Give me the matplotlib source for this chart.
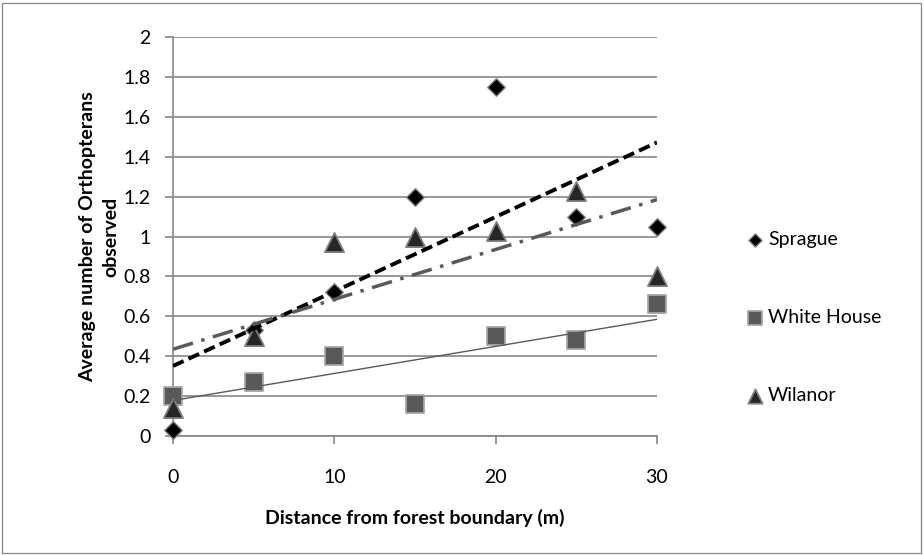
import numpy as np
import matplotlib
matplotlib.use("Agg")
import matplotlib.pyplot as plt
from matplotlib.patches import Rectangle

distance = np.array([0, 5, 10, 15, 20, 25, 30])
sprague = np.array([0.03, 0.53, 0.72, 1.20, 1.75, 1.10, 1.05])
white_house = np.array([0.20, 0.27, 0.40, 0.16, 0.50, 0.48, 0.66])
wilanor = np.array([0.14, 0.50, 0.97, 1.00, 1.03, 1.23, 0.80])
y_ticks = [0, 0.2, 0.4, 0.6, 0.8, 1, 1.2, 1.4, 1.6, 1.8, 2]
x_ticks = [0, 10, 20, 30]

plt.rcParams['font.family'] = ['Lato', 'DejaVu Sans']
grid_col = '#868686'

fig = plt.figure(figsize=(9.24, 5.55), dpi=100)
ax = fig.add_axes([173 / 924, 1 - 436 / 555, (657 - 173) / 924, (436 - 37) / 555])

# outer chart border
fig.patches.append(Rectangle((2 / 924, 2 / 555), 919 / 924, 550 / 555, transform=fig.transFigure,
                             fill=False, edgecolor=grid_col, linewidth=0.9))

ax.scatter(distance, sprague, marker='D', s=80, color='black', edgecolors='#7f7f7f',
           linewidths=1.0, label='Sprague', zorder=3, clip_on=False)
ax.scatter(distance, white_house, marker='s', s=170, color='#595959', edgecolors='#a6a6a6',
           linewidths=1.3, label='White House', zorder=3, clip_on=False)
ax.scatter(distance, wilanor, marker='^', s=190, color='#262626', edgecolors='#7f7f7f',
           linewidths=1.3, label='Wilanor', zorder=3, clip_on=False)

# linear trendlines
xx = np.array([0, 30])
k, b = np.polyfit(distance, sprague, 1)
ax.plot(xx, k * xx + b, color='black', linewidth=2.8, dashes=(3.0, 1.4), zorder=4)
k, b = np.polyfit(distance, white_house, 1)
ax.plot(xx, k * xx + b, color='#595959', linewidth=1.0, zorder=4)
k, b = np.polyfit(distance, wilanor, 1)
ax.plot(xx, k * xx + b, color='#595959', linewidth=2.5, dashes=(6.0, 2.5, 1.0, 2.5), zorder=4)

ax.set_xlim(0, 30)
ax.set_ylim(0, 2)
ax.set_xticks(x_ticks)
ax.set_yticks(y_ticks)
ax.set_yticklabels([('%g' % v) for v in y_ticks])
ax.yaxis.grid(True, color=grid_col, linewidth=1.2)
ax.set_axisbelow(True)
for side in ['top', 'right']:
    ax.spines[side].set_visible(False)
for side in ['left', 'bottom']:
    ax.spines[side].set_color(grid_col)
    ax.spines[side].set_linewidth(1.2)
ax.tick_params(axis='both', colors=grid_col, length=6, width=1.2, labelsize=14,
               labelcolor='black')
ax.tick_params(axis='y', pad=10)
ax.tick_params(axis='x', pad=18)

ax.set_xlabel('Distance from forest boundary (m)', fontsize=14, fontweight='bold', labelpad=16)
ax.set_ylabel('Average number of Orthopterans\nobserved', fontsize=14, fontweight='bold',
              labelpad=3, linespacing=1.45)

fig.legend(loc='upper left', bbox_to_anchor=(738 / 924, 1 - 223 / 555), frameon=False,
           fontsize=14, labelspacing=3.15, handlelength=0.9, handletextpad=0.25,
           borderaxespad=0, scatterpoints=1, markerscale=0.75)

fig.savefig('out.png', dpi=100)
